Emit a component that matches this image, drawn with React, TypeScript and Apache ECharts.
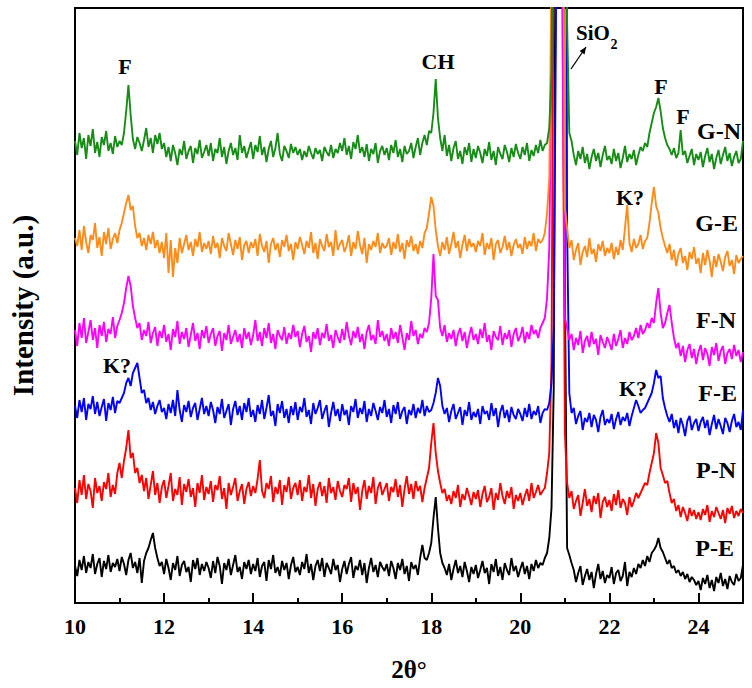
import React, { useEffect, useRef } from 'react';
import * as echarts from 'echarts';

// 2θ scan grid
const START = 10;
const STEP = 0.05;

const seriesNames = ['G-N', 'G-E', 'F-N', 'F-E', 'P-N', 'P-E'];
const offsets = [430, 335, 245, 175, 90, 15];
const colors = ['#178c17', '#ff8c1a', '#ff00ff', '#0000ff', '#ff0000', '#000000'];

const GN = [
  32, 18, 40, 25, 35, 14, 38, 27, 44, 20, 31, 16, 36, 28, 42, 22, 30, 19, 37, 26,
  32, 28, 40, 62, 88, 58, 34, 24, 36, 30, 22, 33, 45, 26, 35, 20, 38, 29, 40, 24,
  30, 16, 26, 12, 28, 20, 8, 24, 18, 32, 14, 22, 27, 10, 25, 19, 33, 15, 21, 28,
  17, 30, 12, 24, 20, 35, 16, 26, 9, 22, 30, 18, 25, 13, 38, 20, 27, 15, 23, 31,
  14, 28, 21, 37, 18, 26, 11, 24, 32, 16, 25, 40, 19, 12, 27, 22, 15, 29, 20, 26,
  18, 24, 13, 22, 16, 27, 20, 14, 25, 19, 23, 12, 26, 21, 17, 28, 15, 24, 20, 30,
  22, 35, 18, 27, 14, 31, 24, 38, 20, 26, 16, 29, 12, 24, 19, 30, 10, 22, 27, 18,
  25, 13, 28, 20, 33, 16, 24, 11, 27, 19, 22, 30, 15, 26, 35, 18, 30, 38, 28, 42,
  40, 60, 94, 55, 35, 22, 38, 17, 28, 12, 25, 32, 14, 22, 9, 26, 18, 30, 11, 24,
  15, 27, 20, 10, 24, 17, 31, 13, 22, 8, 26, 19, 14, 28, 21, 11, 25, 16, 29, 20,
  14, 26, 18, 30, 12, 23, 17, 28, 20, 33, 22, 28, 30, 45, 100, 400, 1500, 2000, 2000, 1600,
  800, 150, 40, 32, 18, 8, 22, 14, 26, 10, 19, 4, 16, 24, 12, 20, 6, 18, 27, 13,
  17, 9, 24, 12, 20, 5, 15, 27, 11, 19, 14, 23, 8, 18, 26, 22, 30, 26, 40, 50,
  60, 66, 75, 62, 45, 35, 28, 24, 18, 25, 15, 20, 43, 18, 22, 10, 17, 24, 8, 19,
  13, 21, 6, 17, 25, 11, 19, 4, 15, 23, 9, 18, 26, 12, 20, 7, 16, 22, 10, 14,
  32,
];

const GE = [
  30, 22, 38, 18, 42, 26, 15, 33, 28, 45, 20, 31, 12, 36, 24, 40, 19, 29, 35, 25,
  38, 45, 55, 65, 73, 58, 62, 42, 30, 35, 22, 30, 18, 33, 24, 36, 20, 28, 15, 26,
  10, 35, -5, 28, -9, 20, 5, 30, 15, 24, 33, 18, 26, 12, 29, 21, 36, 16, 25, 19,
  27, 14, 32, 20, 25, 10, 30, 22, 17, 35, 24, 13, 28, 19, 31, 8, 23, 27, 15, 26,
  20, 29, 12, 34, 22, 16, 27, 5, 24, 30, 18, 25, 11, 28, 21, 33, 17, 24, 8, 26,
  19, 31, 23, 14, 27, 20, 36, 15, 25, 9, 29, 22, 17, 34, 21, 26, 12, 38, 18, 24,
  28, 16, 22, 33, 12, 26, 19, 37, 23, 14, 30, 5, 24, 18, 27, 21, 35, 15, 25, 20,
  22, 30, 13, 26, 19, 34, 16, 25, 9, 28, 21, 32, 17, 24, 14, 27, 20, 35, 40, 55,
  71, 62, 38, 22, 12, 26, 18, 31, 14, 24, 36, 20, 27, 10, 23, 33, 17, 29, 21, 25,
  16, 27, 22, 35, 13, 25, 19, 30, 8, 24, 28, 15, 21, 32, 18, 26, 12, 23, 29, 20,
  24, 14, 31, 19, 27, 22, 35, 17, 29, 25, 28, 35, 55, 90, 300, 1500, 2000, 2000, 1500, 500,
  60, 40, 20, 28, 8, 18, 25, 3, 16, 22, 11, 30, 14, 19, 6, 24, 17, 27, 12, 20,
  15, 25, 9, 21, 13, 28, 18, 40, 63, 25, 16, 29, 20, 24, 33, 19, 27, 30, 45, 65,
  81, 62, 55, 40, 30, 22, 15, 24, 8, 18, 2, 14, 20, 5, 12, -2, 16, 9, 21, 4,
  10, -5, 15, 3, 18, 7, -9, 12, 1, 14, 6, -3, 11, 17, 2, 8, -6, 13, 5, 9,
  12,
];

const FN = [
  28, 12, 35, 20, 40, 15, 26, 38, 18, 30, 10, 33, 22, 36, 16, 29, 24, 41, 20, 32,
  38, 45, 55, 70, 82, 72, 52, 40, 30, 35, 18, 28, 22, 36, 15, 25, 31, 12, 27, 20,
  33, 16, 24, 8, 29, 21, 37, 14, 26, 19, 30, 11, 23, 35, 17, 25, 9, 28, 20, 32,
  15, 24, 30, 12, 22, 27, 7, 25, 18, 33, 14, 21, 28, 16, 24, 10, 30, 19, 26, 13,
  23, 38, 17, 26, 12, 30, 20, 35, 15, 24, 9, 28, 22, 18, 31, 14, 25, 19, 33, 21,
  27, 11, 24, 32, 16, 22, 6, 26, 19, 30, 13, 25, 20, 34, 17, 23, 10, 28, 21, 15,
  29, 18, 36, 22, 13, 27, 20, 31, 16, 24, 9, 26, 33, 18, 23, 14, 38, 21, 27, 17,
  24, 12, 30, 19, 26, 15, 33, 21, 8, 25, 18, 37, 22, 28, 14, 24, 20, 30, 26, 35,
  60, 104, 62, 58, 30, 22, 33, 16, 25, 19, 28, 12, 24, 30, 17, 26, 10, 22, 31, 18,
  24, 14, 29, 20, 35, 16, 23, 8, 27, 21, 18, 32, 13, 25, 19, 28, 11, 24, 30, 17,
  22, 31, 15, 26, 19, 33, 24, 28, 20, 30, 35, 40, 60, 110, 300, 900, 2000, 2000, 1200, 300,
  40, 30, 18, 24, 8, 20, 13, 27, 5, 17, 22, 11, 26, 14, 19, 3, 23, 16, 10, 21,
  15, 8, 24, 12, 19, 28, 10, 20, 14, 26, 18, 22, 30, 20, 33, 24, 28, 35, 30, 40,
  35, 55, 70, 45, 30, 35, 45, 53, 35, 20, 10, 15, 2, 12, -4, 8, 14, 0, 9, -6,
  6, 13, -2, 10, 4, -8, 11, 3, 15, -3, 7, 12, -6, 5, 9, -1, 13, 2, 8, -4,
  6,
];

const FE = [
  22, 10, 28, 16, 30, 8, 24, 19, 32, 14, 26, 12, 21, 29, 7, 25, 18, 31, 15, 27,
  25, 30, 35, 45, 50, 42, 55, 60, 65, 50, 35, 38, 25, 30, 18, 26, 14, 22, 28, 16,
  20, 9, 24, 15, 28, 12, 38, 18, 6, 23, 16, 27, 11, 20, 25, 8, 19, 30, 14, 22,
  12, 26, 18, 5, 21, 14, 29, 10, 17, 24, 3, 19, 27, 13, 22, 8, 25, 16, 30, 11,
  18, 6, 23, 14, 28, 9, 20, 33, 12, 17, 2, 24, 15, 27, 10, 19, 5, 22, 13, 26,
  8, 21, 16, 30, 11, 18, 4, 25, 14, 20, 28, 9, 17, 23, 1, 15, 26, 12, 19, 7,
  24, 13, 18, 3, 22, 16, 29, 10, 20, 14, 27, 6, 19, 12, 25, 17, 8, 21, 15, 28,
  11, 19, 5, 23, 14, 26, 9, 17, 21, 4, 18, 13, 24, 10, 20, 15, 28, 12, 22, 16,
  18, 25, 35, 50, 42, 22, 14, 20, 6, 17, 24, 9, 15, 21, 3, 18, 12, 26, 8, 16,
  11, 19, 4, 22, 14, 17, 8, 25, 12, 20, 1, 16, 23, 10, 18, 6, 21, 13, 9, 19,
  14, 7, 20, 11, 24, 9, 17, 13, 22, 5, 15, 19, 18, 25, 45, 100, 400, 1500, 2000, 2000,
  1200, 200, 35, 15, 20, 4, 12, 17, -2, 10, 6, 15, 1, 13, 8, -4, 11, 18, 3, 9,
  5, 14, -1, 9, 16, 3, 11, 7, 15, 2, 12, 20, 28, 22, 15, 18, 20, 25, 30, 35,
  45, 58, 50, 52, 30, 20, 12, 6, 14, 0, 8, -5, 10, 3, -8, 7, 12, -2, 5, 9,
  -3, 6, 11, 0, 8, -7, 4, 13, -1, 9, 2, -6, 10, 5, -4, 7, 14, 1, 6, -2,
  18,
];

const PN = [
  25, 10, 33, 18, 38, 14, 29, 22, 5, 35, 20, 27, 12, 31, 24, 40, 16, 28, 19, 40,
  50, 35, 52, 65, 83, 55, 60, 40, 45, 30, 38, 22, 35, 14, 28, 42, 18, 30, 10, 26,
  33, 15, 27, 40, 12, 24, 18, 36, 8, 29, 21, 34, 16, 25, 6, 30, 20, 38, 13, 26,
  19, 32, 11, 28, 23, 37, 14, 25, 4, 30, 18, 26, 35, 12, 22, 29, 9, 24, 31, 17,
  27, 20, 34, 53, 22, 15, 30, 24, 37, 11, 26, 19, 33, 8, 28, 21, 36, 14, 25, 30,
  18, 33, 12, 26, 21, 38, 15, 29, 7, 24, 31, 17, 27, 10, 35, 20, 26, 13, 32, 22,
  16, 28, 24, 35, 11, 30, 19, 26, 3, 22, 33, 14, 27, 20, 36, 9, 25, 31, 18, 24,
  30, 12, 26, 21, 34, 16, 28, 6, 24, 37, 19, 29, 14, 32, 22, 27, 11, 25, 35, 45,
  70, 90, 60, 42, 30, 20, 24, 12, 18, 9, 22, 15, 28, 6, 19, 13, 25, 17, 8, 21,
  14, 23, 6, 19, 27, 11, 16, 25, 3, 20, 13, 30, 17, 9, 22, 15, 26, 4, 18, 12,
  20, 8, 17, 24, 12, 30, 15, 21, 28, 18, 22, 25, 40, 60, 150, 600, 1800, 2000, 1600, 500,
  80, 30, 15, 22, 4, 12, 18, -3, 10, 24, 7, 14, 1, 17, 9, 20, -5, 11, 16, 6,
  13, 2, 19, 8, 23, 5, 14, 10, -2, 16, 6, 12, 20, 15, 20, 25, 30, 28, 40, 50,
  60, 80, 70, 45, 38, 30, 32, 20, 10, 14, 2, 8, -4, 6, 0, -8, 5, -3, 3, -6,
  1, -7, 4, -2, 8, -9, 2, -4, 6, 0, -6, 3, -10, 5, -1, 7, -5, 2, -3, 4,
  0,
];

const PE = [
  22, 12, 28, 18, 32, 15, 26, 20, 34, 14, 24, 30, 11, 27, 19, 33, 16, 25, 21, 29,
  17, 31, 24, 13, 28, 35, 20, 26, 15, 30, 5, 27, 35, 40, 48, 55, 40, 30, 22, 26,
  14, 29, 20, 8, 25, 18, 32, 12, 23, 27, 16, 21, 6, 28, 19, 30, 13, 24, 17, 26,
  20, 10, 27, 15, 31, 22, 4, 25, 18, 29, 13, 23, 33, 16, 21, 9, 26, 19, 28, 14,
  24, 17, 30, 11, 22, 26, 7, 28, 19, 33, 15, 21, 12, 27, 18, 25, 9, 23, 31, 16,
  21, 13, 26, 19, 34, 15, 24, 8, 22, 28, 17, 30, 11, 25, 20, 14, 29, 18, 23, 6,
  19, 27, 14, 24, 31, 10, 22, 18, 28, 13, 25, 5, 20, 30, 16, 23, 11, 26, 21, 17,
  24, 12, 27, 20, 9, 25, 18, 29, 14, 22, 7, 26, 19, 23, 13, 30, 43, 30, 28, 35,
  45, 70, 91, 60, 35, 25, 20, 13, 24, 8, 19, 28, 15, 22, 11, 26, 17, 6, 21, 14,
  23, 10, 18, 27, 15, 20, 4, 24, 16, 29, 12, 21, 8, 25, 18, 13, 30, 17, 22, 11,
  19, 26, 14, 22, 9, 24, 17, 28, 20, 25, 23, 30, 35, 50, 80, 200, 800, 1800, 2000, 1200,
  300, 40, 33, 25, 18, 6, 15, 22, 3, 12, 19, 8, 16, 0, 14, 24, 9, 17, 5, 13,
  10, 21, 4, 15, 18, 7, 12, 26, 2, 16, 11, 20, 14, 24, 20, 28, 22, 32, 26, 35,
  38, 42, 50, 40, 36, 30, 24, 28, 20, 22, 15, 18, 12, 16, 9, 14, 6, 11, 8, 3,
  7, -2, 10, 4, 13, 0, 8, -3, 11, 5, 15, 2, 9, -1, 12, 6, 3, 14, 7, 10,
  23,
];

const seriesValues = [GN, GE, FN, FE, PN, PE];

const X_MIN = 10;
const X_MAX = 25;
const Y_MIN = 0;
const Y_MAX = 595;

const FONT = '"Liberation Serif", "Times New Roman", serif';

type Ann = { text: string; x: number; y: number; size: number };
const peakLabels: Ann[] = [
  { text: 'F', x: 125, y: 66, size: 22 },
  { text: 'CH', x: 438, y: 61, size: 22 },
  { text: 'F', x: 661, y: 86, size: 22 },
  { text: 'F', x: 683, y: 116, size: 22 },
  { text: 'K?', x: 630, y: 197, size: 22 },
  { text: 'K?', x: 117, y: 365, size: 22 },
  { text: 'K?', x: 633, y: 388, size: 22 },
  { text: 'SiO', x: 593, y: 33, size: 21 },
  { text: '2', x: 614, y: 44, size: 14 },
];
const sampleLabels: Ann[] = [
  { text: 'G-N', x: 741, y: 131, size: 24 },
  { text: 'G-E', x: 738, y: 223, size: 24 },
  { text: 'F-N', x: 736, y: 320, size: 24 },
  { text: 'F-E', x: 737, y: 393, size: 24 },
  { text: 'P-N', x: 736, y: 470, size: 24 },
  { text: 'P-E', x: 734, y: 548, size: 24 },
];

function textEl(a: Ann, align: string) {
  return {
    type: 'text',
    x: a.x,
    y: a.y,
    z: 100,
    style: {
      text: a.text,
      fill: '#000',
      fontSize: a.size,
      fontWeight: 'bold',
      fontFamily: FONT,
      align,
      verticalAlign: 'middle',
      textAlign: align,
      textVerticalAlign: 'middle',
    },
  };
}

export default function App() {
  const ref = useRef<HTMLDivElement>(null);
  useEffect(() => {
    document.body.style.margin = '0';
    const chart = echarts.init(ref.current!, null, { renderer: 'svg' });

    const series = seriesNames.map((name, s) => ({
      name,
      type: 'line',
      xAxisIndex: 0,
      yAxisIndex: 0,
      showSymbol: false,
      symbol: 'none',
      clip: true,
      lineStyle: { color: colors[s], width: 1.9 },
      itemStyle: { color: colors[s] },
      z: 10 - s,
      data: seriesValues[s].map((v, i) => [
        Math.round((START + STEP * i) * 100) / 100,
        v + offsets[s],
      ]),
    }));

    const tip = [586, 47];
    const tail = [571, 69];

    chart.setOption({
      animation: false,
      backgroundColor: '#fff',
      grid: {
        left: 70,
        right: 9,
        top: 8,
        bottom: 85,
        show: true,
        borderColor: '#000',
        borderWidth: 2,
        backgroundColor: 'transparent',
      },
      xAxis: [
        {
          type: 'value',
          position: 'bottom',
          min: X_MIN,
          max: X_MAX,
          interval: 2,
          name: '2θ°',
          nameLocation: 'middle',
          nameGap: 54,
          nameTextStyle: { fontFamily: FONT, fontWeight: 'bold', fontSize: 25, color: '#000' },
          axisLine: { show: true, lineStyle: { color: '#000', width: 2 } },
          axisTick: { show: true, inside: true, length: 10, lineStyle: { color: '#000', width: 2 } },
          axisLabel: {
            show: true,
            margin: 12,
            showMaxLabel: false,
            color: '#000',
            fontFamily: FONT,
            fontWeight: 'bold',
            fontSize: 22,
          },
          splitLine: { show: false },
        },
        {
          type: 'value',
          position: 'bottom',
          min: X_MIN,
          max: X_MAX,
          interval: 1,
          axisLine: { show: false },
          axisTick: { show: true, inside: true, length: 5, lineStyle: { color: '#000', width: 2 } },
          axisLabel: { show: false },
          splitLine: { show: false },
        },
      ],
      yAxis: {
        type: 'value',
        min: Y_MIN,
        max: Y_MAX,
        name: 'Intensity (a.u.)',
        nameLocation: 'middle',
        nameGap: 38,
        nameTextStyle: { fontFamily: FONT, fontWeight: 'bold', fontSize: 29, color: '#000' },
        axisLine: { show: false },
        axisTick: { show: false },
        axisLabel: { show: false },
        splitLine: { show: false },
      },
      series,
      graphic: [
        ...peakLabels.map((a) => textEl(a, 'center')),
        ...sampleLabels.map((a) => textEl(a, 'right')),
        {
          type: 'line',
          z: 100,
          shape: { x1: tail[0], y1: tail[1], x2: tip[0], y2: tip[1] },
          style: { stroke: '#000', lineWidth: 1.3 },
        },
        {
          type: 'polygon',
          z: 100,
          shape: { points: [[586, 47], [584.6, 54.5], [579.6, 51.1]] },
          style: { fill: '#000' },
        },
      ],
    });
    return () => chart.dispose();
  }, []);
  return <div ref={ref} style={{ width: 752, height: 688 }} />;
}
